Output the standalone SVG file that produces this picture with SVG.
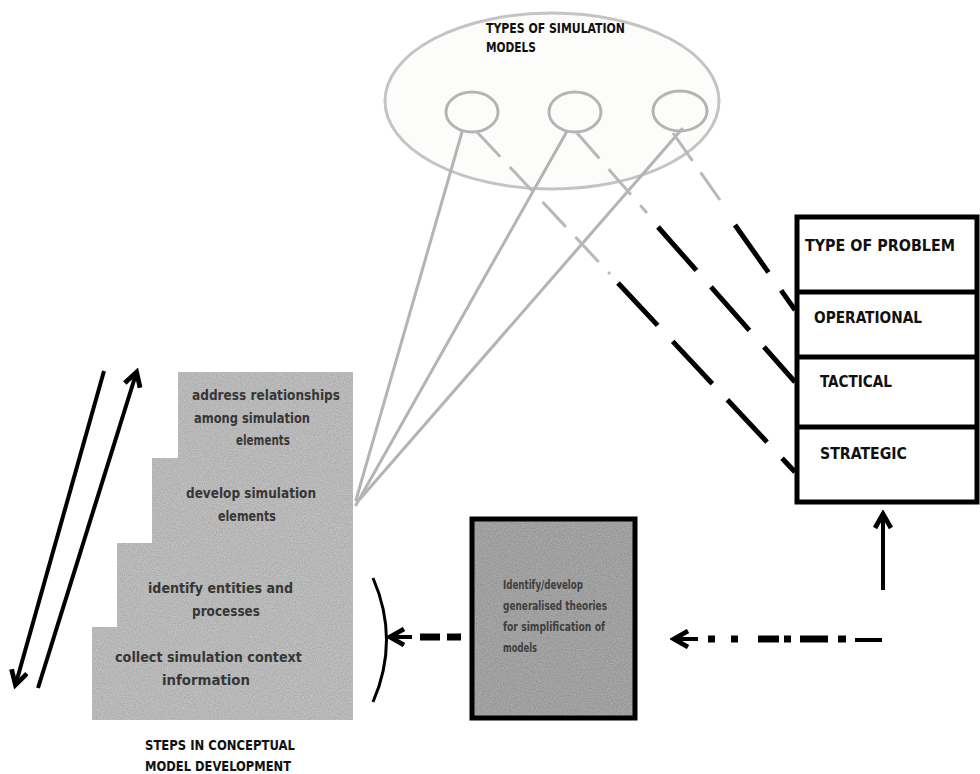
<svg xmlns="http://www.w3.org/2000/svg" width="980" height="774" viewBox="0 0 980 774">
  <style>
    .cap { font-family: "Liberation Sans Narrow", "DejaVu Sans Condensed", "Liberation Sans", sans-serif; font-weight: bold; fill: #111; }
    .step { font-family: "Liberation Sans Narrow", "DejaVu Sans Condensed", "Liberation Sans", sans-serif; font-weight: bold; font-size: 14px; fill: #363636; }
    .theory { font-family: "Liberation Sans Narrow", "DejaVu Sans Condensed", "Liberation Sans", sans-serif; font-weight: bold; font-size: 12.5px; fill: #3e3e3e; }
    .faint { fill: none; stroke: #b4b4b4; stroke-width: 3; stroke-linecap: round; }
    .ghostdash { fill: none; stroke: #b8b8b8; stroke-width: 3; stroke-dasharray: 34 14; }
    .blackdash { fill: none; stroke: #000; stroke-width: 5; stroke-dasharray: 58 22; }
    .solid { fill: none; stroke: #000; stroke-width: 4; }
    .box { stroke: #000; stroke-width: 5; }
  </style>
  <defs>
    <marker id="chev" viewBox="0 0 10 10" refX="7" refY="5" markerUnits="userSpaceOnUse" markerWidth="20" markerHeight="20" orient="auto-start-reverse">
      <path d="M1,1 L8,5 L1,9" fill="none" stroke="#000" stroke-width="2.4"/>
    </marker>
    <filter id="grain" x="0" y="0" width="1" height="1" color-interpolation-filters="sRGB">
      <feTurbulence type="fractalNoise" baseFrequency="0.85" numOctaves="2" seed="4" result="noise"/>
      <feColorMatrix in="noise" type="matrix" values="0.33 0.33 0.33 0 0  0.33 0.33 0.33 0 0  0.33 0.33 0.33 0 0  0 0 0 0 1" result="mono"/>
      <feComposite in="SourceGraphic" in2="mono" operator="arithmetic" k1="0" k2="1" k3="0.3" k4="-0.15" result="mix"/>
      <feComposite in="mix" in2="SourceAlpha" operator="in"/>
    </filter>
  </defs>

  <rect width="980" height="774" fill="#fff"/>

  <!-- simulation model types -->
  <g id="model-types">
    <ellipse cx="552" cy="101" rx="167" ry="88" fill="#fcfcfa" stroke="#c4c4c4" stroke-width="3"/>
    <ellipse cx="472" cy="112" rx="26" ry="20" fill="none" stroke="#b4b4b4" stroke-width="3"/>
    <ellipse cx="575" cy="112" rx="26" ry="20" fill="none" stroke="#b4b4b4" stroke-width="3"/>
    <ellipse cx="680" cy="111" rx="27" ry="20" fill="none" stroke="#b4b4b4" stroke-width="3"/>
    <text class="cap" x="486" y="33" font-size="14" textLength="139" lengthAdjust="spacingAndGlyphs" fill="#222">TYPES OF SIMULATION</text>
    <text class="cap" x="486" y="52" font-size="14" textLength="50" lengthAdjust="spacingAndGlyphs" fill="#222">MODELS</text>
  </g>

  <!-- conceptual model development steps -->
  <g id="steps">
    <path d="M178,372 H353 V720 H92 V627 H117 V543 H152 V458 H178 Z" fill="#b8b8b8" filter="url(#grain)"/>
    <g id="step-relationships">
      <text class="step" x="192" y="400" textLength="148" lengthAdjust="spacingAndGlyphs">address relationships</text>
      <text class="step" x="194" y="423" textLength="116" lengthAdjust="spacingAndGlyphs">among simulation</text>
      <text class="step" x="236" y="445" textLength="54" lengthAdjust="spacingAndGlyphs">elements</text>
    </g>
    <g id="step-elements">
      <text class="step" x="186" y="498" textLength="130" lengthAdjust="spacingAndGlyphs">develop simulation</text>
      <text class="step" x="218" y="521" textLength="58" lengthAdjust="spacingAndGlyphs">elements</text>
    </g>
    <g id="step-entities">
      <text class="step" x="148" y="593" textLength="145" lengthAdjust="spacingAndGlyphs">identify entities and</text>
      <text class="step" x="192" y="616" textLength="68" lengthAdjust="spacingAndGlyphs">processes</text>
    </g>
    <g id="step-context">
      <text class="step" x="115" y="662" textLength="187" lengthAdjust="spacingAndGlyphs">collect simulation context</text>
      <text class="step" x="162" y="685" textLength="88" lengthAdjust="spacingAndGlyphs">information</text>
    </g>
  </g>

  <g id="steps-caption">
    <text class="cap" x="145" y="750" font-size="14" textLength="150" lengthAdjust="spacingAndGlyphs">STEPS IN CONCEPTUAL</text>
    <text class="cap" x="145" y="771" font-size="14" textLength="146" lengthAdjust="spacingAndGlyphs">MODEL DEVELOPMENT</text>
  </g>

  <!-- problem classification table -->
  <g id="problem-types">
    <rect class="box" x="797" y="217" width="180" height="285" fill="#fff"/>
    <line class="box" x1="797" y1="292" x2="977" y2="292"/>
    <line class="box" x1="797" y1="357" x2="977" y2="357"/>
    <line class="box" x1="797" y1="427" x2="977" y2="427"/>
    <text class="cap" x="805" y="251" font-size="15" textLength="150" lengthAdjust="spacingAndGlyphs">TYPE OF PROBLEM</text>
    <text class="cap" x="814" y="323" font-size="15" textLength="108" lengthAdjust="spacingAndGlyphs">OPERATIONAL</text>
    <text class="cap" x="820" y="387" font-size="15" textLength="72" lengthAdjust="spacingAndGlyphs">TACTICAL</text>
    <text class="cap" x="820" y="459" font-size="15" textLength="87" lengthAdjust="spacingAndGlyphs">STRATEGIC</text>
  </g>

  <!-- generalised theories -->
  <g id="theories">
    <rect x="472" y="519" width="163" height="199" fill="#a0a0a0" filter="url(#grain)"/>
    <rect x="472" y="519" width="163" height="199" fill="none" stroke="#000" stroke-width="5"/>
    <text class="theory" x="503" y="589" textLength="80" lengthAdjust="spacingAndGlyphs">Identify/develop</text>
    <text class="theory" x="503" y="610" textLength="104" lengthAdjust="spacingAndGlyphs">generalised theories</text>
    <text class="theory" x="503" y="631" textLength="102" lengthAdjust="spacingAndGlyphs">for simplification of</text>
    <text class="theory" x="503" y="652" textLength="34" lengthAdjust="spacingAndGlyphs">models</text>
  </g>

  <!-- connectors -->
  <g id="connectors">
    <!-- steps to model types -->
    <line class="faint" x1="462" y1="132" x2="356" y2="500"/>
    <line class="faint" x1="566" y1="133" x2="356" y2="505"/>
    <line class="faint" x1="682" y1="129" x2="360" y2="499"/>

    <!-- model types to problem types -->
    <path class="ghostdash" d="M477,132 L610,274"/>
    <path class="blackdash" d="M618,283 L795,472"/>
    <path class="ghostdash" d="M577,133 L647,213"/>
    <path class="blackdash" d="M658,227 L795,382"/>
    <path class="ghostdash" d="M673,133 L720,200"/>
    <path class="blackdash" d="M735,225 L795,310"/>

    <!-- iteration arrows -->
    <line class="solid" x1="104" y1="371" x2="16" y2="683" stroke-width="5" marker-end="url(#chev)"/>
    <line class="solid" x1="38" y1="688" x2="136" y2="374" stroke-width="5" marker-end="url(#chev)"/>

    <!-- theories back to the early steps -->
    <path d="M373,578 Q400,640 373,702" fill="none" stroke="#000" stroke-width="3"/>
    <line class="solid" x1="412" y1="637" x2="392" y2="637" stroke-width="5" marker-end="url(#chev)"/>
    <line x1="420" y1="637" x2="440" y2="637" stroke="#000" stroke-width="7"/>
    <line x1="447" y1="637" x2="461" y2="637" stroke="#000" stroke-width="7"/>

    <!-- problem types back to theories -->
    <line class="solid" x1="883" y1="590" x2="883" y2="516" stroke-width="5" marker-end="url(#chev)"/>
    <line class="solid" x1="698" y1="639" x2="676" y2="639" stroke-width="5" marker-end="url(#chev)"/>
    <g stroke="#000" stroke-width="7">
      <line x1="708" y1="639" x2="715" y2="639"/>
      <line x1="731" y1="639" x2="738" y2="639"/>
      <line x1="758" y1="639" x2="779" y2="639"/>
      <line x1="784" y1="639" x2="791" y2="639"/>
      <line x1="800" y1="639" x2="828" y2="639"/>
      <line x1="838" y1="639" x2="846" y2="639"/>
    </g>
    <line x1="855" y1="640" x2="882" y2="640" stroke="#000" stroke-width="4"/>
  </g>
</svg>
